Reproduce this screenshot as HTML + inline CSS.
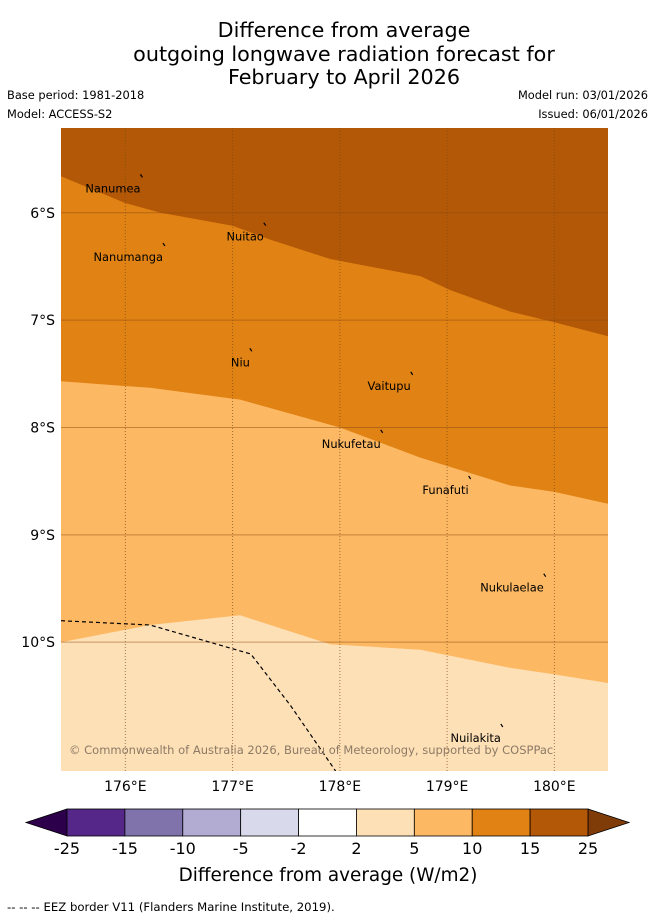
<!DOCTYPE html>
<html><head><meta charset="utf-8">
<style>
body{margin:0;background:#fff;width:655px;height:919px;overflow:hidden;font-family:"Liberation Sans","DejaVu Sans",sans-serif;}
svg text{font-family:"DejaVu Sans","Liberation Sans",sans-serif;}
</style></head>
<body>
<svg id="chart" width="655" height="919" viewBox="0 0 655 919" xmlns="http://www.w3.org/2000/svg">
<g font-size="20.7" text-anchor="middle" fill="#000">
<text x="344" y="37">Difference from average</text>
<text x="344" y="61">outgoing longwave radiation forecast for</text>
<text x="344" y="84">February to April 2026</text>
</g>
<g font-size="11.4" fill="#000">
<text x="7" y="99">Base period: 1981-2018</text>
<text x="7" y="118">Model: ACCESS-S2</text>
<text x="648" y="99" text-anchor="end">Model run: 03/01/2026</text>
<text x="648" y="118" text-anchor="end">Issued: 06/01/2026</text>
</g>
<defs><clipPath id="mapclip"><rect x="61" y="128" width="547" height="643"/></clipPath></defs>
<g id="map" clip-path="url(#mapclip)"></g>
<g id="axes"></g>
<g id="cbar"></g>
<text x="328" y="881" font-size="18.4" text-anchor="middle">Difference from average (W/m2)</text>
<text x="7" y="911" font-size="11.7">--  --  -- EEZ border V11 (Flanders Marine Institute, 2019).</text>
</svg>
<script>
// Contour boundaries (lon, lat south)
const b15Lon=[175.40,176.0,176.33,177.0,177.35,177.91,178.75,179.03,179.59,180.0,180.5];
const b15Lat=[5.66,5.91,6.0,6.12,6.25,6.43,6.59,6.72,6.92,7.02,7.15];
const b10Lon=[175.40,176.23,177.07,178.0,178.75,179.59,180.0,180.5];
const b10Lat=[7.57,7.63,7.74,8.0,8.28,8.54,8.60,8.71];
const b5Lon=[175.40,176.23,177.07,177.91,178.75,179.59,180.0,180.5];
const b5Lat=[10.0,9.84,9.75,10.02,10.07,10.24,10.30,10.38];
const eezLon=[175.40,176.23,177.17,177.54,177.96];
const eezLat=[9.80,9.84,10.11,10.59,11.2];
const islandNames=["Nanumea","Nuitao","Nanumanga","Niu","Vaitupu","Nukufetau","Funafuti","Nukulaelae","Nuilakita"];
const islandLon=[176.15,177.3,176.36,177.17,178.67,178.39,179.21,179.91,179.51];
const islandLat=[5.67,6.12,6.31,7.29,7.51,8.05,8.48,9.39,10.79];
const xTicks=[176,177,178,179,180];
const yTicks=[6,7,8,9,10];
const cbLevels=["-25","-15","-10","-5","-2","2","5","10","15","25"];
const cbColors=["#542788","#8073ac","#b2abd2","#d8daeb","#ffffff","#fee0b6","#fdb863","#e08214","#b35806"];

const lonMin=175.40,lonMax=180.5,latMin=5.21,latMax=11.2;
const X0=61,X1=608,Y0=128,Y1=771;
const sx=l=>X0+(l-lonMin)/(lonMax-lonMin)*(X1-X0);
const sy=l=>Y0+(l-latMin)/(latMax-latMin)*(Y1-Y0);
const NS="http://www.w3.org/2000/svg";
function mk(t,a,p){const e=document.createElementNS(NS,t);for(const k in a)e.setAttribute(k,a[k]);p.appendChild(e);return e;}
const map=document.getElementById('map');
function line(lons,lats){return lons.map((l,i)=>sx(l).toFixed(1)+","+sy(lats[i]).toFixed(1)).join(" L");}
let r=mk('rect',{x:X0,y:Y0,width:X1-X0,height:Y1-Y0,fill:'#b35806'},map);


function band(lons,lats,fill,name){
 const p=mk('path',{d:"M"+line(lons,lats)+" L"+X1+","+Y1+" L"+X0+","+Y1+" Z",fill:fill},map);
 
 
}
band(b15Lon,b15Lat,'#e08214','band-10-15');
band(b10Lon,b10Lat,'#fdb863','band-5-10');
band(b5Lon,b5Lat,'#fee0b6','band-2-5');
// gridlines
xTicks.forEach(t=>{const g=mk('line',{x1:sx(t),x2:sx(t),y1:Y0,y2:Y1,stroke:'#7a4a1a','stroke-width':1,'stroke-dasharray':'1,2','stroke-opacity':0.7},map);
 
 });
yTicks.forEach(t=>{const g=mk('line',{x1:X0,x2:X1,y1:sy(t),y2:sy(t),stroke:'#8a4a10','stroke-width':1,'stroke-opacity':0.5},map);
 
 });
// EEZ
const ez=mk('path',{d:"M"+line(eezLon,eezLat),fill:'none',stroke:'#000','stroke-width':1.2,'stroke-dasharray':'4,3'},map);


// islands
islandNames.forEach((n,i)=>{
 const x=sx(islandLon[i]),y=sy(islandLat[i]);
 const m=mk('path',{d:`M${x-1},${y-3} L${x+1},${y}`,stroke:'#000','stroke-width':1.2},map);
 
 
 const t=mk('text',{x:x-1,y:y+15,'font-size':11.4,'text-anchor':'end',fill:'#000'},map);
 t.textContent=n;
 
 
});
const cp=mk('text',{x:69,y:754,'font-size':11.5,fill:'#8c7a66'},map);
cp.textContent="© Commonwealth of Australia 2026, Bureau of Meteorology, supported by COSPPac";


// axis labels
const ax=document.getElementById('axes');
xTicks.forEach(t=>{const e=mk('text',{x:sx(t),y:791,'font-size':14,'text-anchor':'middle'},ax);e.textContent=t+"°E";
 
 });
yTicks.forEach(t=>{const e=mk('text',{x:55,y:sy(t)+5,'font-size':14,'text-anchor':'end'},ax);e.textContent=t+"°S";
 
 });
// colorbar
const cb=document.getElementById('cbar');
const cx0=67,cx1=588,cy=809,ch=27,cw=(cx1-cx0)/cbColors.length;
const la=mk('path',{d:`M${cx0},${cy} L26,${cy+ch/2} L${cx0},${cy+ch} Z`,fill:'#2d004b',stroke:'#000','stroke-width':0.8},cb);


const ra=mk('path',{d:`M${cx1},${cy} L629,${cy+ch/2} L${cx1},${cy+ch} Z`,fill:'#7f3b08',stroke:'#000','stroke-width':0.8},cb);


cbColors.forEach((c,i)=>{const e=mk('rect',{x:cx0+i*cw,y:cy,width:cw,height:ch,fill:c,stroke:'#000','stroke-width':0.8},cb);
 
 });
cbLevels.forEach((l,i)=>{const e=mk('text',{x:cx0+i*cw,y:854,'font-size':16,'text-anchor':'middle'},cb);e.textContent=l;
 
 });
</script>
</body></html>
